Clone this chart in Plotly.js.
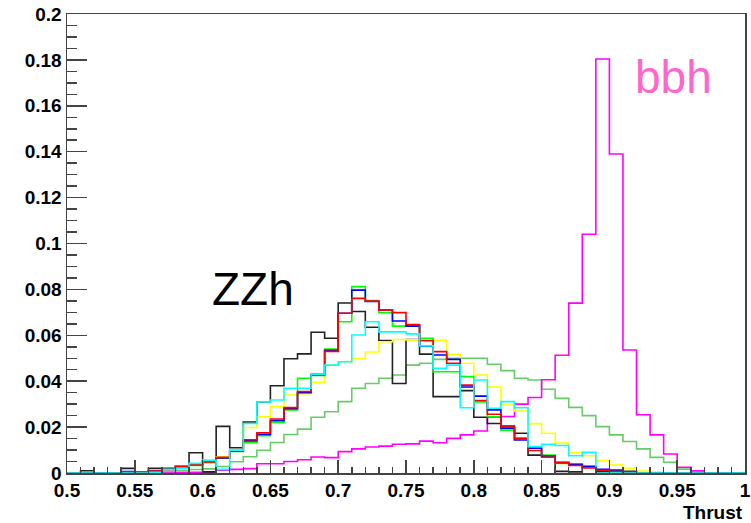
<!DOCTYPE html>
<html>
<head>
<meta charset="utf-8">
<script src="https://cdn.plot.ly/plotly-3.0.1.min.js"></script>
<style>html,body{margin:0;padding:0;background:#fff;}#chart{width:751px;height:523px;}</style>
</head>
<body>
<div id="chart"></div>
<script>
// Histogram binning of Thrust: 50 bins from 0.50 to 1.00
const binLow = 0.5;
const binWidth = 0.01;
const nBins = 50;

// Normalised bin contents per sample
const blackVals = [0,0.001,0,0,0.002,0,0.002,0.002,0.003,0.0088,
  0.0005,0.0203,0.011,0.0222,0.031,0.038,0.0498,0.0519,0.0613,0.0587,
  0.0741,0.0704,0.0635,0.0577,0.039,0.0582,0.0518,0.0333,0.0333,0.0359,
  0.0243,0.0216,0.0205,0.0173,0.0078,0.007,0.0007,0.0005,0.0027,0.0005,
  0.0013,0.0007,0,0,0,0,0,0,0,0];
const redVals = [0,0,0,0,0.0005,0.0003,0.0008,0.0015,0.0028,0.0038,
  0.0048,0.0068,0.0098,0.0145,0.0175,0.0235,0.0285,0.0355,0.043,0.053,
  0.0696,0.0761,0.0749,0.0711,0.0699,0.0647,0.0577,0.0529,0.0478,0.0383,
  0.0316,0.0256,0.02,0.015,0.0098,0.0075,0.0047,0.0033,0.0022,0.0012,
  0.0006,0.0003,0,0,0,0,0,0,0,0];
const blueVals = [0,0,0,0,0.0006,0.0003,0.0008,0.0016,0.0027,0.0036,
  0.0053,0.0066,0.0096,0.014,0.0168,0.0228,0.028,0.035,0.0427,0.0535,
  0.0696,0.0797,0.0747,0.071,0.0662,0.064,0.0553,0.0514,0.0495,0.0375,
  0.0335,0.0275,0.0195,0.0144,0.0108,0.0075,0.0045,0.0038,0.0028,0.0016,
  0.0008,0.0003,0,0,0,0,0,0,0,0];
const greenVals = [0,0,0,0,0.0003,0.0003,0.001,0.0018,0.003,0.0033,
  0.0045,0.0064,0.0094,0.0132,0.0162,0.022,0.0275,0.0413,0.0425,0.054,
  0.0659,0.0812,0.0751,0.0699,0.064,0.0645,0.0587,0.0441,0.0441,0.042,
  0.031,0.0245,0.0187,0.0153,0.011,0.0078,0.0042,0.0038,0.003,0.0012,
  0.0006,0.0003,0,0,0,0,0,0,0,0];
const cyanVals = [0,0,0,0,0,0,0.0003,0.0015,0.002,0.0042,
  0.0055,0.0016,0.0099,0.0216,0.031,0.0318,0.0369,0.0369,0.0429,0.047,
  0.0485,0.0601,0.0659,0.0615,0.0615,0.0606,0.0554,0.0456,0.047,0.0284,
  0.0405,0.0282,0.0311,0.0284,0.0115,0.0125,0.012,0.0075,0.009,0,
  0,0,0,0,0,0,0,0,0,0];
const yellowVals = [0,0,0,0,0,0.0003,0.0009,0.0015,0.0028,0.0035,
  0.0055,0.0071,0.0095,0.0198,0.0245,0.0289,0.034,0.0345,0.0395,0.047,
  0.0485,0.0499,0.0527,0.0572,0.0582,0.058,0.0579,0.0578,0.0517,0.0478,
  0.0427,0.0375,0.0296,0.027,0.0215,0.0173,0.013,0.0089,0.0075,0.0054,
  0.0035,0.002,0.0009,0.0005,0,0,0,0,0,0];
const lightGreenVals = [0,0,0,0,0,0,0,0.0005,0.001,0.0015,
  0.0018,0.0028,0.0049,0.0071,0.0099,0.0133,0.0168,0.0191,0.0243,0.0267,
  0.0311,0.0369,0.039,0.0413,0.0427,0.047,0.0478,0.0495,0.05,0.05,
  0.05,0.0474,0.0446,0.0413,0.0405,0.0365,0.0325,0.0286,0.025,0.0202,
  0.0166,0.0137,0.0105,0.0068,0.0047,0.0017,0.0008,0,0,0];
const magentaVals = [0,0,0,0,0,0,0,0,0.0002,0.0003,
  0.0003,0.0012,0.0016,0.0019,0.004,0.004,0.005,0.0058,0.007,0.0067,
  0.0093,0.0105,0.0113,0.0117,0.0125,0.0127,0.0139,0.0132,0.0151,0.0166,
  0.0183,0.0243,0.0246,0.03,0.0329,0.0406,0.0513,0.074,0.104,0.1804,
  0.139,0.0536,0.0254,0.0166,0.0083,0.0025,0.001,0,0,0];

const xTickVals = [0.5,0.55,0.6,0.65,0.7,0.75,0.8,0.85,0.9,0.95,1];
const xTickText = ['0.5','0.55','0.6','0.65','0.7','0.75','0.8','0.85','0.9','0.95','1'];
const yTickVals = [0,0.02,0.04,0.06,0.08,0.1,0.12,0.14,0.16,0.18,0.2];
const yTickText = ['0','0.02','0.04','0.06','0.08','0.1','0.12','0.14','0.16','0.18','0.2'];

const labelZZh = 'ZZh';
const labelBbh = 'bbh';
const xTitle = 'Thrust';

// ---------- drawing ----------
const edges = [];
for (let i = 0; i <= nBins; i++) edges.push(+(binLow + i * binWidth).toFixed(4));

function stepTrace(vals, color, width) {
  return {
    type: 'scatter', mode: 'lines',
    x: edges, y: vals.concat([vals[vals.length - 1]]),
    line: {shape: 'hv', color: color, width: width || 1.6},
    hoverinfo: 'skip', showlegend: false
  };
}

const traces = [
  stepTrace(lightGreenVals, '#66cc66'),
  stepTrace(magentaVals, '#ff00ff'),
  stepTrace(blackVals, '#222222'),
  stepTrace(yellowVals, '#ffff00'),
  stepTrace(greenVals, '#00ff00'),
  stepTrace(blueVals, '#0000ff'),
  stepTrace(redVals, '#ff0000'),
  stepTrace(cyanVals, '#00ffff')
];

const tickFont = {family: 'Liberation Sans, Arial, Helvetica, sans-serif', size: 19, weight: 'bold', color: '#000'};

const layout = {
  width: 751, height: 523,
  margin: {l: 67, r: 6, t: 14, b: 50, pad: 0},
  paper_bgcolor: '#fff', plot_bgcolor: '#fff',
  showlegend: false,
  xaxis: {
    range: [0.5, 1], showgrid: false, zeroline: false,
    showline: true, linecolor: '#444', linewidth: 1.5, mirror: true,
    ticks: 'inside', ticklen: 13, tickwidth: 1.5, tickcolor: '#444',
    tickmode: 'array', tickvals: xTickVals, ticktext: xTickText,
    tickfont: tickFont,
    minor: {dtick: 0.01, ticks: 'inside', ticklen: 6, tickwidth: 1.5, tickcolor: '#444', showgrid: false}
  },
  yaxis: {
    range: [0, 0.2], showgrid: false, zeroline: false,
    showline: true, linecolor: '#444', linewidth: 1.5, mirror: true,
    ticks: 'inside', ticklen: 20, tickwidth: 1.5, tickcolor: '#444',
    tickmode: 'array', tickvals: yTickVals, ticktext: yTickText,
    tickfont: tickFont,
    minor: {dtick: 0.005, ticks: 'inside', ticklen: 10, tickwidth: 1.5, tickcolor: '#444', showgrid: false}
  },
  annotations: [
    {text: labelZZh, x: 0.6055, y: 0.0802, xref: 'x', yref: 'y', xanchor: 'left', yanchor: 'middle',
     showarrow: false, font: {family: 'Liberation Sans, Arial, sans-serif', size: 46, color: '#000'}},
    {text: labelBbh, x: 0.9174, y: 0.1725, xref: 'x', yref: 'y', xanchor: 'left', yanchor: 'middle',
     showarrow: false, font: {family: 'Liberation Sans, Arial, sans-serif', size: 46, color: '#ff66cc'}},
    {text: xTitle, x: 1, y: -0.085, xref: 'paper', yref: 'paper', xanchor: 'right', yanchor: 'middle',
     showarrow: false, font: {family: 'Liberation Sans, Arial, sans-serif', size: 19, weight: 'bold', color: '#000'}}
  ]
};

Plotly.newPlot('chart', traces, layout, {staticPlot: true, displayModeBar: false});
</script>
</body>
</html>
